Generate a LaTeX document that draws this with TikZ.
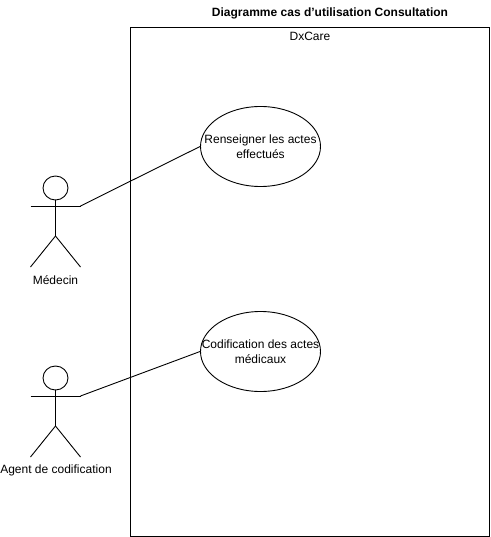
\documentclass[tikz,border=0pt]{standalone}
\usepackage{fontspec}
\setmainfont{Liberation Sans}
\usetikzlibrary{shapes.geometric}
\tikzset{
 lbl/.style={inner sep=0pt,font=\fontsize{12bp}{15bp}\selectfont,align=center},
 usecase/.style={draw,ellipse,minimum width=120bp,minimum height=80bp,inner sep=0pt,line width=0.9bp},
 ln/.style={line width=0.9bp}
}
\newcommand{\actor}[3]{%
 \draw[ln] (#2,#3) ellipse (12.5 and 12);
 \draw[ln] (#2,#3+12) -- (#2,#3+48);
 \draw[ln] (#2-25,#3+18) -- (#2+25,#3+18);
 \draw[ln] (#2,#3+48) -- (#2-25,#3+79);
 \draw[ln] (#2,#3+48) -- (#2+25,#3+79);
 \coordinate (#1) at (#2+25,#3+18);
}
\begin{document}
\begin{tikzpicture}[x=1bp,y=-1bp]
\useasboundingbox (0,0) rectangle (491,537);
\fill[white] (0,0) rectangle (491,537);
\node[lbl,font=\bfseries\fontsize{12bp}{15bp}\selectfont] (title) at (330,13) {Diagramme cas d'utilisation Consultation};
\node[draw,ln,minimum width=359bp,minimum height=509bp,inner sep=0pt,outer sep=0pt] (box) at (309.5,281.5) {};
\node[lbl] (sys) at (310,36) {DxCare};
\node[usecase] (u1) at (260.5,146.5) {};
\node[lbl] (t1) at (260.5,147) {Renseigner les actes\\effectués};
\node[usecase] (u2) at (260.5,351.5) {};
\node[lbl] (t2) at (260.5,352) {Codification des actes\\médicaux};
\actor{a1}{55.5}{188}
\actor{a2}{55.5}{378}
\node[lbl] (l1) at (55.5,280) {Médecin};
\node[lbl] (l2) at (56,470) {Agent de codification};
\draw[ln] (a1) -- (u1.west);
\draw[ln] (a2) -- (u2.west);
\end{tikzpicture}
\end{document}
